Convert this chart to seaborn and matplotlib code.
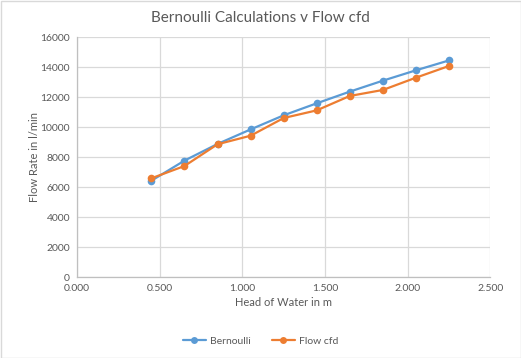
import matplotlib
matplotlib.use("Agg")
import matplotlib.pyplot as plt
import seaborn as sns
import pandas as pd
from matplotlib.ticker import FormatStrFormatter, MultipleLocator
from matplotlib.patches import Rectangle
from matplotlib.lines import Line2D

head = [0.45, 0.65, 0.85, 1.05, 1.25, 1.45, 1.65, 1.85, 2.05, 2.25]
bernoulli = [6440, 7780, 8890, 9860, 10800, 11600, 12380, 13110, 13800, 14460]
flow_cfd = [6600, 7420, 8870, 9440, 10620, 11130, 12090, 12490, 13310, 14090]
series_names = ["Bernoulli", "Flow cfd"]

df = pd.DataFrame({
    "head": head * 2,
    "flow": bernoulli + flow_cfd,
    "series": [series_names[0]] * len(head) + [series_names[1]] * len(head),
})

sns.set_theme(style="white")
plt.rcParams["font.family"] = ["Lato", "DejaVu Sans"]

txt = "#595959"
grid = "#d9d9d9"
colors = ["#5B9BD5", "#ED7D31"]

fig = plt.figure(figsize=(5.21, 3.58), dpi=100)
ax = fig.add_axes([77 / 521, 1 - 277.3 / 358, (490 - 76.6) / 521, (277.3 - 37.3) / 358])

sns.lineplot(data=df, x="head", y="flow", hue="series",
             palette=colors, marker="o", markersize=5.5,
             markeredgewidth=0, linewidth=1.6, ax=ax, legend=False)

ax.set_xlim(0, 2.5)
ax.set_ylim(0, 16000)
ax.xaxis.set_major_locator(MultipleLocator(0.5))
ax.yaxis.set_major_locator(MultipleLocator(2000))
ax.xaxis.set_major_formatter(FormatStrFormatter("%.3f"))
ax.grid(True, color=grid, linewidth=0.9)
ax.set_axisbelow(True)
for s in ["top", "right"]:
    ax.spines[s].set_visible(False)
for s in ["left", "bottom"]:
    ax.spines[s].set_color("#bfbfbf")
    ax.spines[s].set_linewidth(0.9)
ax.tick_params(length=0, labelsize=7.5, colors=txt, pad=5)
ax.set_xlabel("Head of Water in m", fontsize=8, color=txt, labelpad=3)
ax.set_ylabel("Flow Rate in l/min", fontsize=8, color=txt, labelpad=0)

fig.text(0.5, 1 - 18.5 / 358, "Bernoulli Calculations v Flow cfd", ha="center", va="center",
         fontsize=11, color=txt)

handles = [Line2D([], [], color=c, marker="o", markersize=5, markeredgewidth=0, linewidth=1.6)
           for c in colors]
fig.legend(handles, series_names, loc="center", bbox_to_anchor=(0.5, 1 - 341 / 358),
           ncol=2, frameon=False, fontsize=7.5, labelcolor=txt, handlelength=2.2,
           columnspacing=2.0, handletextpad=0.4)

fig.patches.append(Rectangle((0.5 / 521, 0.5 / 358), 1 - 1 / 521, 1 - 1 / 358,
                             transform=fig.transFigure, fill=False, edgecolor="#d9d9d9",
                             linewidth=1))

fig.savefig("out.png", dpi=100, facecolor="white")
